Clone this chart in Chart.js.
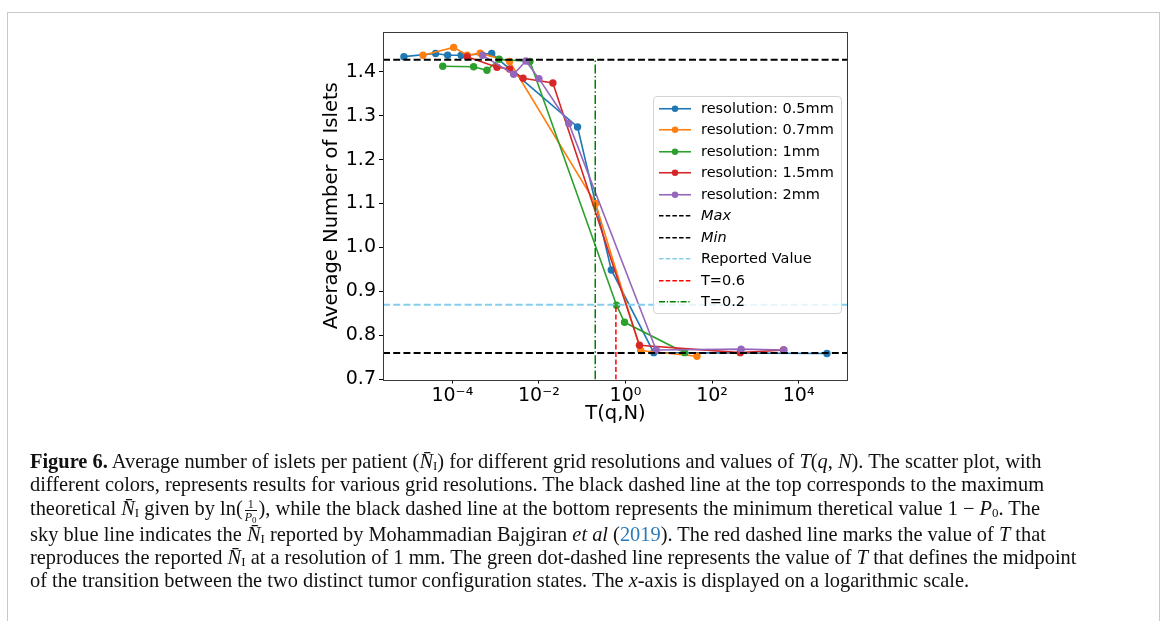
<!DOCTYPE html>
<html><head><meta charset="utf-8">
<script src="https://cdn.jsdelivr.net/npm/chart.js@4.4.1/dist/chart.umd.min.js"></script>
<style>
html,body{margin:0;padding:0;background:#fff;}
body{width:1167px;height:621px;position:relative;overflow:hidden;}
#frame{position:absolute;left:7px;top:12px;width:1153px;height:660px;border:1px solid #c8c8c8;box-sizing:border-box;}
#chartWrap{position:absolute;left:0;top:0;width:1167px;height:450px;}
#legend{position:absolute;left:653px;top:96px;width:189px;height:218px;box-sizing:border-box;border:1px solid #d4d4d4;border-radius:4px;background:rgba(255,255,255,0.8);font-family:"DejaVu Sans";font-size:14.5px;color:#000;}
.row{position:absolute;left:0;height:21.5px;width:100%;}
.row svg{position:absolute;left:4px;top:0;}
.row span{position:absolute;left:47px;top:0;line-height:21.5px;white-space:nowrap;}
.cap{position:absolute;left:30px;font-family:"Liberation Serif";font-size:20.4px;line-height:24px;white-space:nowrap;color:#111;}
.cap sub{font-size:13px;vertical-align:-2px;line-height:0;}
.frac{display:inline-block;vertical-align:middle;text-align:center;font-size:12px;line-height:12px;margin:0 2px;}
.frac .num{display:block;border-bottom:1px solid #111;padding:0 1px;}
.frac .den{display:block;font-style:italic;}
.frac .den sub{font-size:9px;font-style:normal;vertical-align:-2px;}
a{color:#2a7ab9;text-decoration:none;}
</style></head>
<body>
<div id="frame"></div>
<div id="chartWrap"><canvas id="c" width="1167" height="450"></canvas></div>
<div id="legend"></div>

<div class="cap" style="top:449px"><b>Figure 6.</b> Average number of islets per patient (<i>N̄</i><sub>I</sub>) for different grid resolutions and values of <i>T</i>(<i>q</i>, <i>N</i>). The scatter plot, with</div>
<div class="cap" style="top:472px">different colors, represents results for various grid resolutions. The black dashed line at the top corresponds to the maximum</div>
<div class="cap" style="top:496px">theoretical <i>N̄</i><sub>I</sub> given by ln(<span class="frac"><span class="num">1</span><span class="den">P<sub>0</sub></span></span>), while the black dashed line at the bottom represents the minimum theretical value 1 − <i>P</i><sub>0</sub>. The</div>
<div class="cap" style="top:522px">sky blue line indicates the <i>N̄</i><sub>I</sub> reported by Mohammadian Bajgiran <i>et al</i> (<a>2019</a>). The red dashed line marks the value of <i>T</i> that</div>
<div class="cap" style="top:545px">reproduces the reported <i>N̄</i><sub>I</sub> at a resolution of 1 mm. The green dot-dashed line represents the value of <i>T</i> that defines the midpoint</div>
<div class="cap" style="top:568px">of the transition between the two distinct tumor configuration states. The <i>x</i>-axis is displayed on a logarithmic scale.</div>

<script>
// ---- data ----
const T_05 = [7.6e-6, 4.1e-5, 7.8e-5, 1.6e-4, 8.1e-4, 0.078, 0.47, 4.5, 45000];
const N_05 = [1.434, 1.441, 1.437, 1.437, 1.441, 1.274, 0.949, 0.761, 0.759];
const T_07 = [2.1e-5, 1.07e-4, 2.2e-4, 4.4e-4, 2.1e-3, 0.204, 2.24, 44.7];
const N_07 = [1.437, 1.455, 1.437, 1.442, 1.423, 1.100, 0.766, 0.753];
const T_10 = [6.0e-5, 3.1e-4, 6.3e-4, 1.2e-3, 6.2e-3, 0.62, 0.95, 23.4];
const N_10 = [1.412, 1.411, 1.403, 1.428, 1.423, 0.869, 0.830, 0.761];
const T_15 = [2.2e-4, 1.07e-3, 2.1e-3, 4.3e-3, 0.021, 2.1, 447, 4470];
const N_15 = [1.434, 1.410, 1.406, 1.385, 1.374, 0.778, 0.761, 0.767];
const T_20 = [5.0e-4, 2.6e-3, 5.0e-3, 0.010, 0.049, 5.1, 468, 4570];
const N_20 = [1.437, 1.394, 1.424, 1.384, 1.282, 0.767, 0.769, 0.767];
const SERIES_LABELS = ['resolution: 0.5mm','resolution: 0.7mm','resolution: 1mm','resolution: 1.5mm','resolution: 2mm'];
const MAX_VAL = 1.427;   // ln(1/P0)
const MIN_VAL = 0.76;    // 1 - P0
const REPORTED = 0.87;
const T_FIT = 0.6;
const T_MID = 0.2;
const X_MIN = 2.5e-6, X_MAX = 1.38e5;
const Y_MIN = 0.7, Y_MAX = 1.49;
const X_TICKS = [1e-4, 1e-2, 1, 1e2, 1e4];
const Y_TICKS = [0.7, 0.8, 0.9, 1.0, 1.1, 1.2, 1.3, 1.4];

// ---- styling ----
const COLORS = ['#1f77b4','#ff7f0e','#2ca02c','#d62728','#9467bd'];
const XS = [T_05, T_07, T_10, T_15, T_20];
const YS = [N_05, N_07, N_10, N_15, N_20];
const pts = (xs, ys) => xs.map((x, i) => ({x: x, y: ys[i]}));

const datasets = [];
SERIES_LABELS.forEach((lab, i) => {
  datasets.push({label: lab, data: pts(XS[i], YS[i]), showLine: true, borderColor: COLORS[i], backgroundColor: COLORS[i],
    borderWidth: 1.6, pointRadius: 3.7, pointBorderWidth: 0, pointHoverRadius: 3.7, tension: 0, _leg: {marker: true, dash: null, w: 1.6}});
});
datasets.push({label: 'Max', data: [{x: X_MIN, y: MAX_VAL}, {x: X_MAX, y: MAX_VAL}], showLine: true, borderColor: '#000', borderWidth: 2, borderDash: [7, 3.2], pointRadius: 0, _leg: {dash: [4.5, 2.2], w: 1.6, italic: true}});
datasets.push({label: 'Min', data: [{x: X_MIN, y: MIN_VAL}, {x: X_MAX, y: MIN_VAL}], showLine: true, borderColor: '#000', borderWidth: 2, borderDash: [7, 3.2], pointRadius: 0, _leg: {dash: [4.5, 2.2], w: 1.6, italic: true}});
datasets.push({label: 'Reported Value', data: [{x: X_MIN, y: REPORTED}, {x: X_MAX, y: REPORTED}], showLine: true, borderColor: '#87ceeb', borderWidth: 2, borderDash: [7, 3.2], pointRadius: 0, _leg: {dash: [4.5, 2.2], w: 1.6}});
datasets.push({label: 'T=0.6', data: [{x: T_FIT, y: Y_MIN}, {x: T_FIT, y: REPORTED}], showLine: true, borderColor: '#ff0000', borderWidth: 1.5, borderDash: [5, 2.5], pointRadius: 0, _leg: {dash: [4.5, 2.2], w: 1.6}});
datasets.push({label: 'T=0.2', data: [{x: T_MID, y: Y_MIN}, {x: T_MID, y: MAX_VAL}], showLine: true, borderColor: '#008000', borderWidth: 1.5, borderDash: [9, 2.4, 1.5, 2.4], pointRadius: 0, _leg: {dash: [6, 1.8, 1.2, 1.8], w: 1.6}});
datasets.forEach((d, i) => { d.order = 50 - i; });

const SUP = {'-': '⁻', '0': '⁰', '1': '¹', '2': '²', '3': '³', '4': '⁴', '5': '⁵', '6': '⁶', '7': '⁷', '8': '⁸', '9': '⁹'};
function fmtPow(v) { const e = Math.round(Math.log10(v)); return '10' + String(e).split('').map(c => SUP[c]).join(''); }

const framePlugin = {
  id: 'frame',
  afterDraw(chart) {
    const a = chart.chartArea, ctx = chart.ctx;
    ctx.save();
    ctx.strokeStyle = '#3a3a3a'; ctx.lineWidth = 1;
    ctx.strokeRect(Math.round(a.left) + 0.5, Math.round(a.top) + 0.5, Math.round(a.right - a.left) - 1, Math.round(a.bottom - a.top));
    ctx.restore();
  }
};

const tickFont = {family: 'DejaVu Sans', size: 19};
const titleFont = {family: 'DejaVu Sans', size: 19.5};

new Chart(document.getElementById('c'), {
  type: 'scatter',
  data: {datasets: datasets},
  options: {
    responsive: false, animation: false, devicePixelRatio: 1,
    layout: {padding: {left: 303, right: 319, top: 32, bottom: 10.5}},
    plugins: {legend: {display: false}, tooltip: {enabled: false}},
    scales: {
      x: {
        type: 'logarithmic', min: X_MIN, max: X_MAX, bounds: 'data',
        afterBuildTicks: ax => { ax.ticks = X_TICKS.map(v => ({value: v})); },
        afterFit: s => { s.height = 60; },
        ticks: {callback: v => fmtPow(v), font: tickFont, color: '#000', padding: 1, maxRotation: 0, autoSkip: false},
        grid: {display: true, drawOnChartArea: false, drawTicks: true, tickLength: 4, color: '#000', tickColor: '#000', tickWidth: 1},
        border: {display: false},
        title: {display: true, text: 'T(q,N)', font: titleFont, color: '#000', padding: {top: 0, bottom: 13.5}}
      },
      y: {
        type: 'linear', min: Y_MIN, max: Y_MAX,
        afterBuildTicks: ax => { ax.ticks = Y_TICKS.map(v => ({value: v})); },
        afterFit: s => { s.width = 80; },
        ticks: {callback: v => Number(v).toFixed(1), font: tickFont, color: '#000', padding: 3},
        grid: {display: true, drawOnChartArea: false, drawTicks: true, tickLength: 4, color: '#000', tickColor: '#000', tickWidth: 1},
        border: {display: false},
        title: {display: true, text: 'Average Number of Islets', font: titleFont, color: '#000', padding: {top: 17.3, bottom: 0}}
      }
    }
  },
  plugins: [framePlugin]
});

// ---- HTML legend built from the datasets ----
const leg = document.getElementById('legend');
datasets.forEach((d, i) => {
  const row = document.createElement('div');
  row.className = 'row';
  row.style.top = (0.5 + i * 21.5) + 'px';
  const L = d._leg;
  const dash = L.dash ? ` stroke-dasharray="${L.dash.join(' ')}"` : '';
  const marker = L.marker ? `<circle cx="17" cy="10.75" r="3.2" fill="${d.borderColor}"/>` : '';
  row.innerHTML = `<svg width="34" height="21.5"><line x1="1" y1="10.75" x2="33" y2="10.75" stroke="${d.borderColor}" stroke-width="${L.w}"${dash}/>${marker}</svg><span${L.italic ? ' style="font-style:italic"' : ''}>${d.label}</span>`;
  leg.appendChild(row);
});
</script>
</body></html>
